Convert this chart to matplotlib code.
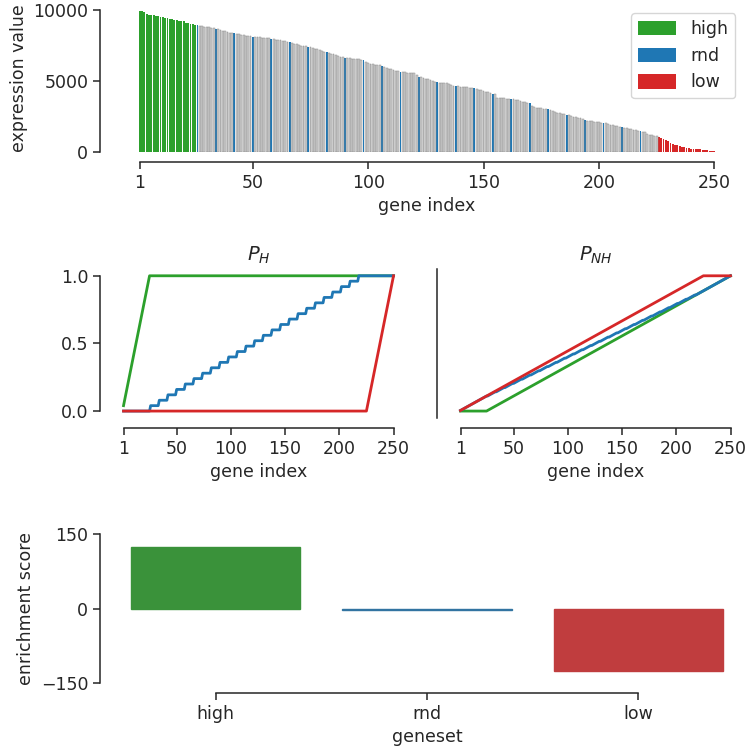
"""Gene set enrichment toy example: ranked expression, running P_H / P_NH, enrichment scores."""

import matplotlib

matplotlib.use("Agg")
import matplotlib.pyplot as plt
import numpy as np

# ranked expression values for genes 1..250
expression = [
    9950, 9940, 9840, 9700, 9680, 9660, 9640, 9610, 9560, 9540,
    9500, 9460, 9420, 9380, 9340, 9310, 9270, 9240, 9230, 9200,
    9110, 9070, 9040, 9000, 8950, 8940, 8900, 8870, 8840, 8810,
    8780, 8750, 8720, 8700, 8650, 8580, 8540, 8500, 8470, 8420,
    8380, 8360, 8330, 8300, 8260, 8220, 8190, 8160, 8140, 8120,
    8100, 8090, 8070, 8050, 8040, 8020, 8000, 7980, 7950, 7920,
    7900, 7870, 7830, 7800, 7780, 7760, 7700, 7640, 7580, 7540,
    7500, 7470, 7440, 7410, 7380, 7340, 7290, 7240, 7200, 7120,
    7060, 7020, 6980, 6940, 6890, 6840, 6780, 6720, 6680, 6640,
    6620, 6600, 6580, 6560, 6540, 6520, 6500, 6480, 6350, 6250,
    6220, 6190, 6150, 6120, 6100, 6080, 5990, 5940, 5880, 5840,
    5790, 5740, 5700, 5660, 5640, 5610, 5590, 5570, 5550, 5540,
    5400, 5300, 5260, 5210, 5170, 5120, 5060, 5000, 4950, 4920,
    4890, 4870, 4850, 4840, 4790, 4730, 4680, 4650, 4630, 4610,
    4590, 4570, 4550, 4540, 4530, 4490, 4420, 4370, 4340, 4300,
    4250, 4200, 4150, 4110, 4080, 3830, 3810, 3800, 3790, 3770,
    3760, 3740, 3730, 3690, 3650, 3600, 3560, 3520, 3480, 3430,
    3250, 3180, 3120, 3090, 3070, 3050, 3020, 3000, 2940, 2880,
    2820, 2770, 2720, 2680, 2650, 2620, 2580, 2540, 2490, 2460,
    2420, 2380, 2320, 2260, 2210, 2190, 2170, 2150, 2120, 2090,
    2060, 2040, 2020, 1980, 1930, 1880, 1840, 1800, 1780, 1760,
    1720, 1680, 1640, 1600, 1560, 1520, 1480, 1450, 1410, 1380,
    1300, 1220, 1180, 1160, 1150, 1030, 990, 950, 830, 760,
    650, 580, 520, 470, 420, 380, 340, 290, 260, 240,
    220, 200, 190, 180, 160, 140, 110, 90, 60, 40,
]

# gene sets (1-based gene indices)
high_genes = list(range(1, 26))
rnd_genes = [26, 34, 42, 50, 58, 66, 74, 82, 90, 98, 106, 114, 122,
             130, 138, 146, 154, 162, 170, 178, 186, 194, 202, 210, 218]
low_genes = list(range(226, 251))

genesets = ["high", "rnd", "low"]
enrichment = [123, -2, -126]

gene_ticks = [1, 50, 100, 150, 200, 250]

SET_COLORS = {"high": "#2ca02c", "rnd": "#1f77b4", "low": "#d62728"}
BAR_COLORS = {"high": "#3a923a", "rnd": "#3274a1", "low": "#c03d3e"}
INK = "0.15"
OFFSET = 7.2  # points, ~10 px

plt.rcParams.update({
    "font.family": "DejaVu Sans",
    "axes.edgecolor": INK, "axes.labelcolor": INK, "text.color": INK,
    "xtick.color": INK, "ytick.color": INK,
    "xtick.labelsize": 12.5, "ytick.labelsize": 12.5, "axes.labelsize": 12.5,
    "xtick.major.size": 5, "ytick.major.size": 5,
    "axes.linewidth": 1.1, "xtick.major.width": 1.1, "ytick.major.width": 1.1,
})


def despine(ax, xb=None, yb=None):
    ax.spines["top"].set_visible(False)
    ax.spines["right"].set_visible(False)
    ax.spines["bottom"].set_position(("outward", OFFSET))
    ax.spines["left"].set_position(("outward", OFFSET))
    if xb is not None:
        ax.spines["bottom"].set_bounds(*xb)
    if yb is not None:
        ax.spines["left"].set_bounds(*yb)


n = len(expression)
genes = np.arange(1, n + 1)
members = {"high": set(high_genes), "rnd": set(rnd_genes), "low": set(low_genes)}

fig = plt.figure(figsize=(7.5, 7.5), dpi=100)

# --- top: ranked expression, bars coloured by gene set
ax = fig.add_axes([0.1467, 0.7973, 0.8453, 0.1968])
in_set = np.zeros(n, dtype=bool)
for name in genesets:
    idx = np.array(sorted(members[name])) - 1
    in_set[idx] = True
    ax.bar(genes[idx], np.array(expression)[idx], width=0.8,
           color=SET_COLORS[name], linewidth=0, label=name)
ax.bar(genes[~in_set], np.array(expression)[~in_set], width=0.8,
       color="#cfcfcf", edgecolor="#8a8a8a", linewidth=0.35)
ax.set_ylim(0, 10400)
ax.set_xticks(gene_ticks)
ax.set_yticks([0, 5000, 10000])
ax.set_xlabel("gene index")
ax.set_ylabel("expression value")
ax.legend(loc="upper right", fontsize=12.5, handlelength=2.2, handleheight=0.9)
despine(ax, xb=(1, 250), yb=(0, 10000))

# --- middle: running sums P_H and P_NH
ax_h = fig.add_axes([0.1467, 0.4429, 0.396, 0.1984])
ax_nh = fig.add_axes([0.596, 0.4429, 0.396, 0.1984], sharey=ax_h)
for name in genesets:
    hit = np.array([g in members[name] for g in genes], dtype=float)
    p_h = np.cumsum(hit) / hit.sum()
    p_nh = np.cumsum(1 - hit) / (1 - hit).sum()
    ax_h.plot(genes, p_h, color=SET_COLORS[name], lw=2)
    ax_nh.plot(genes, p_nh, color=SET_COLORS[name], lw=2)
for a, title in [(ax_h, "$P_H$"), (ax_nh, "$P_{NH}$")]:
    a.set_xticks(gene_ticks)
    a.set_xlabel("gene index")
    a.set_title(title, fontsize=14)
ax_h.set_yticks([0, 0.5, 1.0])
ax_h.set_ylim(-0.05, 1.05)
despine(ax_h, xb=(1, 250), yb=(0, 1))
despine(ax_nh, xb=(1, 250))
ax_nh.tick_params(axis="y", left=False, labelleft=False)

# --- bottom: enrichment score per gene set
ax_es = fig.add_axes([0.1467, 0.0893, 0.8453, 0.1987])
xs = np.arange(len(genesets))
ax_es.bar(xs, enrichment, width=0.8, color=[BAR_COLORS[g] for g in genesets],
          edgecolor=[BAR_COLORS[g] for g in genesets], linewidth=1)
ax_es.set_xlim(-0.5, 2.5)
ax_es.set_ylim(-150, 150)
ax_es.set_xticks(xs, genesets)
ax_es.set_yticks([-150, 0, 150])
ax_es.set_xlabel("geneset")
ax_es.set_ylabel("enrichment score")
despine(ax_es, xb=(0, 2), yb=(-150, 150))

fig.savefig("out.png", dpi=100)
